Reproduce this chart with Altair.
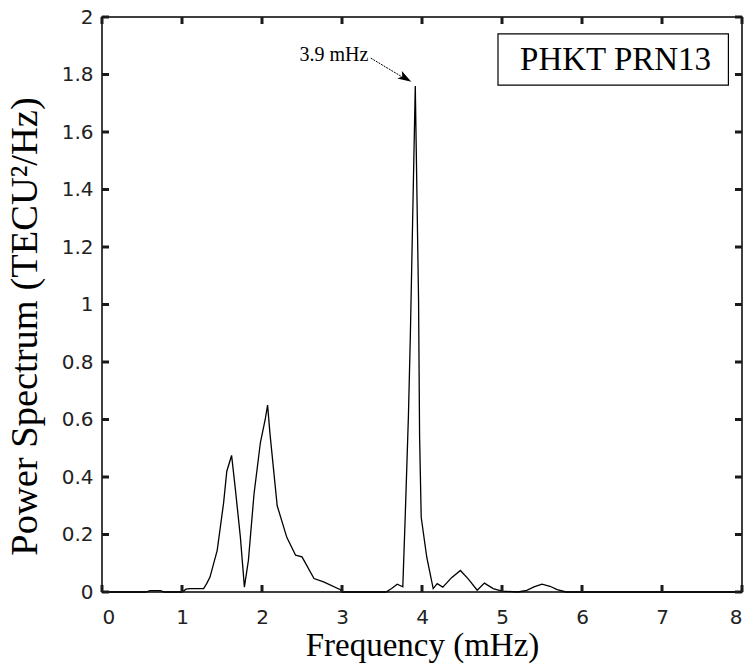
import altair as alt
import pandas as pd

# Spectrum (frequency in mHz, power in TECU^2/Hz)
freq = [0.0, 0.55, 0.6, 0.73, 0.78, 1.0, 1.05, 1.1, 1.27, 1.31, 1.35, 1.44, 1.52, 1.56,
        1.62, 1.67, 1.73, 1.78, 1.83, 1.90, 1.98, 2.04, 2.07, 2.10, 2.19, 2.31, 2.42,
        2.50, 2.65, 2.77, 2.98, 3.0, 3.55, 3.62, 3.69, 3.76, 3.79, 3.83, 3.855, 3.916,
        3.957, 3.97, 3.99, 4.06, 4.14, 4.19, 4.26, 4.37, 4.48, 4.58, 4.69, 4.78, 4.89,
        5.0, 5.2, 5.31, 5.4, 5.5, 5.6, 5.69, 5.8, 6.3, 6.87, 7.14, 7.44, 7.6, 8.0]
power = [0.0, 0.0, 0.005, 0.005, 0.0, 0.0, 0.01, 0.012, 0.012, 0.03, 0.052, 0.145, 0.31, 0.42,
         0.475, 0.35, 0.19, 0.017, 0.11, 0.34, 0.52, 0.6, 0.65, 0.55, 0.30, 0.19, 0.128,
         0.122, 0.047, 0.035, 0.008, 0.0, 0.0, 0.012, 0.027, 0.018, 0.26, 0.61, 0.9, 1.76,
         1.015, 0.54, 0.26, 0.12, 0.012, 0.029, 0.017, 0.05, 0.075, 0.045, 0.006, 0.031, 0.012,
         0.003, 0.0, 0.006, 0.018, 0.027, 0.02, 0.008, 0.0, 0.0, 0.0, 0.0, 0.0, 0.0, 0.0]

x_ticks = [0, 1, 2, 3, 4, 5, 6, 7, 8]
y_ticks = [0, 0.2, 0.4, 0.6, 0.8, 1.0, 1.2, 1.4, 1.6, 1.8, 2.0]

peak_label = "3.9 mHz"
station_label = "PHKT PRN13"

W, H = 640, 575
FONT = "Liberation Serif"
LFONT = "DejaVu Sans"

df = pd.DataFrame({"f": freq, "p": power})
xs = alt.Scale(domain=[0, 8], nice=False)
ys = alt.Scale(domain=[0, 2], nice=False)

line = alt.Chart(df).mark_line(color="black", strokeWidth=1.3).encode(
    x=alt.X("f:Q", scale=xs,
            axis=alt.Axis(values=x_ticks, format="d", title="Frequency (mHz)", ticks=False,
                          domain=False, grid=False, labelFont=LFONT, labelFontSize=20,
                          labelColor="#222", labelPadding=15, titleFont=FONT, titleFontSize=33,
                          titleFontWeight="normal", titleColor="black", titlePadding=2)),
    y=alt.Y("p:Q", scale=ys,
            axis=alt.Axis(values=y_ticks, title="Power Spectrum (TECU²/Hz)", ticks=False,
                          domain=False, grid=False, labelFont=LFONT, labelFontSize=20,
                          labelColor="#222", labelPadding=9,
                          labelExpr="datum.value == 0 ? '0' : format(datum.value, '.1~f')",
                          titleFont=FONT, titleFontSize=38.5, titleFontWeight="normal",
                          titleColor="black", titlePadding=17, titleY=309)),
)

# inward tick marks (length expressed in data units: 7 px)
TX = 7 * 8 / W
TY = 7 * 2 / H
xt = pd.DataFrame({"tx": x_ticks})
yt = pd.DataFrame({"ty": y_ticks})
TCOL = "#1a1a1a"
TW = 3
xtick_b = alt.Chart(xt).mark_rule(color=TCOL, strokeWidth=TW).encode(
    x=alt.X("tx:Q", scale=xs), y=alt.datum(0), y2=alt.datum(TY))
xtick_t = alt.Chart(xt).mark_rule(color=TCOL, strokeWidth=TW).encode(
    x=alt.X("tx:Q", scale=xs), y=alt.datum(2), y2=alt.datum(2 - TY))
ytick_l = alt.Chart(yt).mark_rule(color=TCOL, strokeWidth=TW).encode(
    y=alt.Y("ty:Q", scale=ys), x=alt.datum(0), x2=alt.datum(TX))
ytick_r = alt.Chart(yt).mark_rule(color=TCOL, strokeWidth=TW).encode(
    y=alt.Y("ty:Q", scale=ys), x=alt.datum(8), x2=alt.datum(8 - TX))

ann = pd.DataFrame({"af": [2.9], "ap": [1.867], "at": [peak_label]})
ann_text = alt.Chart(ann).mark_text(font=FONT, fontSize=20, color="black").encode(
    x=alt.X("af:Q", scale=xs), y=alt.Y("ap:Q", scale=ys), text="at:N")

arrow_df = pd.DataFrame({"rf": [3.36, 3.78], "rp": [1.857, 1.787]})
arrow_line = alt.Chart(arrow_df).mark_line(color="black", strokeWidth=1, strokeDash=[2, 1]).encode(
    x=alt.X("rf:Q", scale=xs), y=alt.Y("rp:Q", scale=ys))
head_df = pd.DataFrame({"hf": [3.78], "hp": [1.789]})
arrow_head = alt.Chart(head_df).mark_point(
    shape="M0,-1L0.55,0.7L0,0.3L-0.55,0.7Z", filled=True, color="black",
    size=260, opacity=1).encode(
    x=alt.X("hf:Q", scale=xs), y=alt.Y("hp:Q", scale=ys), angle=alt.value(121))

box_df = pd.DataFrame({"x1": [4.95], "x2": [7.83], "y1": [1.763], "y2": [1.941]})
box = alt.Chart(box_df).mark_rect(fill="white", stroke="black", strokeWidth=1.2).encode(
    x=alt.X("x1:Q", scale=xs), x2="x2:Q", y=alt.Y("y1:Q", scale=ys), y2="y2:Q")
lab_df = pd.DataFrame({"lf": [6.42], "lp": [1.852], "lt": [station_label]})
box_text = alt.Chart(lab_df).mark_text(font=FONT, fontSize=33, color="black", baseline="middle").encode(
    x=alt.X("lf:Q", scale=xs), y=alt.Y("lp:Q", scale=ys), text="lt:N")

chart = alt.layer(
    line, xtick_b, xtick_t, ytick_l, ytick_r, ann_text, arrow_line, arrow_head, box, box_text
).properties(
    width=W, height=H,
    autosize=alt.AutoSizeParams(type="none"),
    padding={"left": 102, "top": 17, "right": 9, "bottom": 78},
    background="white",
).configure_view(stroke="black", strokeWidth=1.5)

chart.save("out.html", embed_options={"renderer": "svg", "actions": False})
